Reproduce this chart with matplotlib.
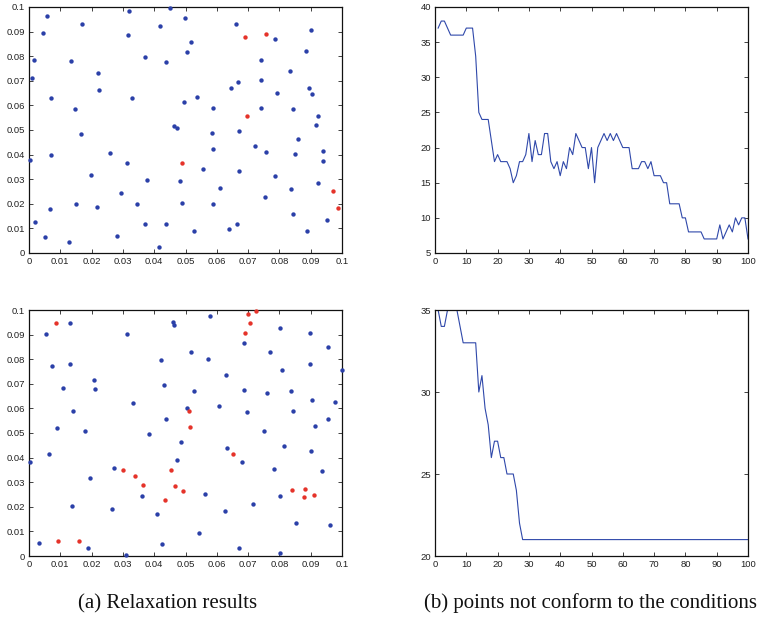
import numpy as np
import matplotlib
matplotlib.use("Agg")
import matplotlib.pyplot as plt

# ---- data ----
# (a) top: relaxation results, blue = conforming points, red = not conforming
top_blue_x = [0.0450, 0.0318, 0.0056, 0.0169, 0.0419, 0.0044, 0.0316, 0.0017, 0.0133, 0.0372,
              0.0437, 0.0010, 0.0220, 0.0224, 0.0070, 0.0328, 0.0147, 0.0462, 0.0472, 0.0165,
              0.0002, 0.0070, 0.0259, 0.0312, 0.0198, 0.0377, 0.0482, 0.0293, 0.0149, 0.0066,
              0.0216, 0.0346, 0.0019, 0.0370, 0.0439, 0.0052, 0.0128, 0.0281, 0.0414,
              0.0498, 0.0661, 0.0785, 0.0900, 0.0518, 0.0504, 0.0884, 0.0742, 0.0834, 0.0669,
              0.0742, 0.0645, 0.0894, 0.0791, 0.0905, 0.0536, 0.0495, 0.0589, 0.0740, 0.0842,
              0.0923, 0.0916, 0.0585, 0.0671, 0.0858, 0.0722, 0.0587, 0.0757, 0.0850, 0.0940,
              0.0940, 0.0555, 0.0671, 0.0787, 0.0610, 0.0836, 0.0923, 0.0488, 0.0589, 0.0754,
              0.0844, 0.0953, 0.0526, 0.0638, 0.0666, 0.0889]
top_blue_y = [0.0997, 0.0985, 0.0962, 0.0930, 0.0924, 0.0894, 0.0885, 0.0783, 0.0780, 0.0798,
              0.0775, 0.0713, 0.0730, 0.0661, 0.0631, 0.0631, 0.0584, 0.0518, 0.0509, 0.0485,
              0.0379, 0.0398, 0.0405, 0.0364, 0.0318, 0.0298, 0.0294, 0.0245, 0.0201, 0.0180,
              0.0186, 0.0198, 0.0127, 0.0119, 0.0119, 0.0066, 0.0046, 0.0069, 0.0026,
              0.0957, 0.0932, 0.0871, 0.0906, 0.0859, 0.0816, 0.0822, 0.0786, 0.0740, 0.0694,
              0.0705, 0.0669, 0.0669, 0.0652, 0.0648, 0.0634, 0.0614, 0.0588, 0.0588, 0.0585,
              0.0556, 0.0520, 0.0488, 0.0495, 0.0462, 0.0436, 0.0421, 0.0409, 0.0401, 0.0415,
              0.0373, 0.0341, 0.0335, 0.0313, 0.0266, 0.0262, 0.0286, 0.0205, 0.0199, 0.0228,
              0.0157, 0.0133, 0.0091, 0.0099, 0.0117, 0.0091]
top_red_x = [0.0690, 0.0756, 0.0696, 0.0488, 0.0972, 0.0988]
top_red_y = [0.0877, 0.0889, 0.0556, 0.0364, 0.0251, 0.0183]

# (a) bottom
bot_blue_x = [0.0132, 0.0055, 0.0313, 0.0459, 0.0462, 0.0130, 0.0072, 0.0422, 0.0209, 0.0211,
              0.0431, 0.0109, 0.0331, 0.0140, 0.0438, 0.0088, 0.0179, 0.0384, 0.0002, 0.0063,
              0.0473, 0.0272, 0.0194, 0.0362, 0.0137, 0.0266, 0.0410, 0.0031, 0.0187, 0.0309,
              0.0425,
              0.0579, 0.0802, 0.0898, 0.0687, 0.0517, 0.0769, 0.0956, 0.0571, 0.0898, 0.0807,
              0.0999, 0.0628, 0.0526, 0.0687, 0.0760, 0.0837, 0.0904, 0.0979, 0.0504, 0.0606,
              0.0698, 0.0843, 0.0955, 0.0914, 0.0751, 0.0487, 0.0632, 0.0814, 0.0900, 0.0679,
              0.0784, 0.0937, 0.0563, 0.0802, 0.0715, 0.0626, 0.0852, 0.0963, 0.0543, 0.0672,
              0.0802]
bot_blue_y = [0.0949, 0.0904, 0.0902, 0.0953, 0.0940, 0.0782, 0.0774, 0.0797, 0.0714, 0.0679,
              0.0696, 0.0682, 0.0623, 0.0588, 0.0557, 0.0519, 0.0507, 0.0497, 0.0383, 0.0416,
              0.0389, 0.0356, 0.0318, 0.0245, 0.0202, 0.0190, 0.0169, 0.0053, 0.0033, 0.0005,
              0.0047,
              0.0974, 0.0927, 0.0907, 0.0866, 0.0831, 0.0828, 0.0850, 0.0802, 0.0779, 0.0757,
              0.0755, 0.0734, 0.0671, 0.0676, 0.0661, 0.0671, 0.0636, 0.0627, 0.0600, 0.0611,
              0.0585, 0.0588, 0.0557, 0.0530, 0.0507, 0.0462, 0.0440, 0.0449, 0.0427, 0.0383,
              0.0354, 0.0346, 0.0252, 0.0245, 0.0211, 0.0182, 0.0136, 0.0126, 0.0093, 0.0034,
              0.0011]
bot_red_x = [0.0086, 0.0301, 0.0339, 0.0365, 0.0453, 0.0466, 0.0436, 0.0093, 0.0160,
             0.0700, 0.0724, 0.0705, 0.0691, 0.0511, 0.0513, 0.0651, 0.0492,
             0.0840, 0.0883, 0.0879, 0.0910]
bot_red_y = [0.0949, 0.0351, 0.0325, 0.0290, 0.0348, 0.0286, 0.0228, 0.0062, 0.0062,
             0.0985, 0.0997, 0.0946, 0.0907, 0.0591, 0.0524, 0.0416, 0.0266,
             0.0270, 0.0272, 0.0240, 0.0249]

# (b) number of points not conforming, per iteration
iters = list(range(1, 101))
count_top = [37, 38, 38, 37, 36, 36, 36, 36, 36, 37, 37, 37, 33, 25, 24, 24, 24, 21, 18, 19,
             18, 18, 18, 17, 15, 16, 18, 18, 19, 22, 18, 21, 19, 19, 22, 22, 18, 17, 18, 16,
             18, 17, 20, 19, 22, 21, 20, 20, 17, 20, 15, 20, 21, 22, 21, 22, 21, 22, 21, 20,
             20, 20, 17, 17, 17, 18, 18, 17, 18, 16, 16, 16, 15, 15, 12, 12, 12, 12, 10, 10,
             8, 8, 8, 8, 8, 7, 7, 7, 7, 7, 9, 7, 8, 9, 8, 10, 9, 10, 10, 7]
count_bot = [35, 34, 34, 35, 35, 35, 35, 34, 33, 33, 33, 33, 33, 30, 31, 29, 28, 26, 27, 27,
             26, 26, 25, 25, 25, 24, 22, 21] + [21] * 72

BLUE = "#2b40a8"
RED = "#e5332a"
LINE = "#2f48aa"

W, H = 762, 619
fig = plt.figure(figsize=(W / 100, H / 100), dpi=100)


def box(px_left, px_top, px_w=313, px_h=246):
    return [px_left / W, 1 - (px_top + px_h) / H, px_w / W, px_h / H]


def matlab_style(ax):
    ax.tick_params(direction="in", top=True, right=True, length=3, width=0.6,
                   labelsize=6.8, colors="#222222", pad=3)
    for s in ax.spines.values():
        s.set_linewidth(0.9)
        s.set_color("#111111")
    for lab in ax.get_xticklabels() + ax.get_yticklabels():
        lab.set_family("Liberation Sans")


ax1 = fig.add_axes(box(29, 7))
ax2 = fig.add_axes(box(435, 7))
ax3 = fig.add_axes(box(29, 310))
ax4 = fig.add_axes(box(435, 310))

sq_ticks = np.round(np.arange(0, 0.1001, 0.01), 2)
sq_labels = ["0"] + [f"{t:g}" for t in sq_ticks[1:]]

for ax, bx, by, rx, ry in [(ax1, top_blue_x, top_blue_y, top_red_x, top_red_y),
                           (ax3, bot_blue_x, bot_blue_y, bot_red_x, bot_red_y)]:
    ax.scatter(bx, by, s=10, color=BLUE, linewidths=0, zorder=3, clip_on=False)
    ax.scatter(rx, ry, s=10, color=RED, linewidths=0, zorder=3, clip_on=False)
    ax.set_xlim(0, 0.1)
    ax.set_ylim(0, 0.1)
    ax.set_xticks(sq_ticks)
    ax.set_xticklabels(sq_labels)
    ax.set_yticks(sq_ticks)
    ax.set_yticklabels(sq_labels)
    matlab_style(ax)

ax2.plot(iters, count_top, color=LINE, linewidth=0.8)
ax2.set_xlim(0, 100)
ax2.set_ylim(5, 40)
ax2.set_xticks(range(0, 101, 10))
ax2.set_yticks(range(5, 41, 5))
matlab_style(ax2)

ax4.plot(iters, count_bot, color=LINE, linewidth=0.8)
ax4.set_xlim(0, 100)
ax4.set_ylim(20, 35)
ax4.set_xticks(range(0, 101, 10))
ax4.set_yticks(range(20, 36, 5))
matlab_style(ax4)

cap_y = 1 - 608 / H
fig.text(168 / W, cap_y, "(a) Relaxation results", family="Liberation Serif",
         fontsize=15, ha="center", va="baseline", color="#111111")
fig.text(590 / W, cap_y, "(b) points not conform to the conditions", family="Liberation Serif",
         fontsize=15, ha="center", va="baseline", color="#111111")

fig.savefig("out.png", dpi=100)
